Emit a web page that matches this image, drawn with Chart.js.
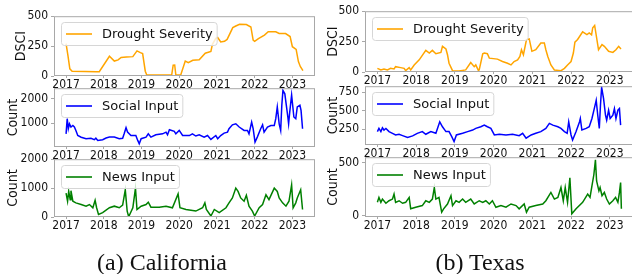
<!DOCTYPE html>
<html lang="en">
<head>
<meta charset="UTF-8" />
<title>Drought severity vs. social and news input</title>
<style>
  body {
    margin: 0;
    background: #fff;
    width: 632px; height: 274px;
    overflow: hidden;
    position: relative;
  }
  canvas { position: absolute; }
  .caption {
    position: absolute;
    width: 240px;
    text-align: center;
    font-family: 'Liberation Serif', 'Times New Roman', serif;
    font-size: 24px;
    line-height: 28px;
    color: #111;
  }
</style>
</head>
<body>

<canvas id="caDroughtChart"></canvas>
<canvas id="caSocialChart"></canvas>
<canvas id="caNewsChart"></canvas>
<canvas id="txDroughtChart"></canvas>
<canvas id="txSocialChart"></canvas>
<canvas id="txNewsChart"></canvas>

<div class="caption" style="left:42px; top:248px;">(a) California</div>
<div class="caption" style="left:360px; top:248px;">(b) Texas</div>

<script src="https://cdn.jsdelivr.net/npm/chart.js"></script>
<script>
  // ---- data: [year, value] ----
  const yearTicks = [2017, 2018, 2019, 2020, 2021, 2022, 2023];
  const xMin = 2016.68, xMax = 2023.6;

  const caDrought = [[2017.00,270],[2017.05,170],[2017.10,60],[2017.16,40],[2017.50,38],[2017.80,35],[2017.88,36],
    [2018.15,165],[2018.28,125],[2018.38,135],[2018.46,155],[2018.60,158],[2018.77,162],[2018.88,210],[2018.97,195],
    [2019.03,188],[2019.10,40],[2019.14,8],[2019.80,8],[2019.84,90],[2019.88,92],[2019.91,10],[2020.04,8],
    [2020.16,125],[2020.24,112],[2020.36,132],[2020.53,135],[2020.69,190],[2020.84,205],[2020.88,265],[2020.97,315],
    [2021.02,322],[2021.10,285],[2021.20,290],[2021.27,306],[2021.42,405],[2021.50,418],[2021.60,433],[2021.78,430],
    [2021.90,410],[2021.96,300],[2022.00,290],[2022.10,312],[2022.26,342],[2022.36,370],[2022.56,370],[2022.65,356],
    [2022.82,355],[2022.94,330],[2023.00,245],[2023.10,222],[2023.16,120],[2023.21,80],[2023.28,45]];

  const caSocial = [[2017.00,560],[2017.03,1180],[2017.06,770],[2017.09,970],[2017.13,840],[2017.18,900],[2017.22,840],
    [2017.26,700],[2017.31,490],[2017.40,420],[2017.53,360],[2017.66,380],[2017.75,320],[2017.79,380],[2017.84,290],
    [2017.97,320],[2018.06,390],[2018.15,425],[2018.28,425],[2018.41,360],[2018.50,380],[2018.54,560],[2018.59,810],
    [2018.63,630],[2018.72,490],[2018.85,490],[2018.90,290],[2018.94,150],[2018.99,360],[2019.12,425],[2019.18,560],
    [2019.25,425],[2019.38,520],[2019.56,560],[2019.65,630],[2019.69,520],[2019.74,730],[2019.87,660],[2019.91,560],
    [2020.00,700],[2020.09,490],[2020.27,490],[2020.35,560],[2020.44,470],[2020.53,520],[2020.66,425],[2020.75,490],
    [2020.84,330],[2020.97,490],[2021.02,360],[2021.10,490],[2021.19,590],[2021.28,630],[2021.32,770],[2021.41,930],
    [2021.50,970],[2021.59,840],[2021.72,700],[2021.81,700],[2021.85,560],[2021.92,1040],[2021.96,770],[2022.01,220],
    [2022.07,425],[2022.16,770],[2022.21,930],[2022.25,630],[2022.34,840],[2022.43,900],[2022.52,900],[2022.56,1180],
    [2022.60,1660],[2022.65,970],[2022.69,700],[2022.72,1730],[2022.75,2340],[2022.80,2200],[2022.84,1730],
    [2022.88,1250],[2022.90,970],[2022.93,1450],[2022.98,2150],[2023.04,1250],[2023.09,1180],[2023.13,1660],
    [2023.20,1730],[2023.23,1520],[2023.27,770]];

  const caNews = [[2017.00,830],[2017.04,545],[2017.07,885],[2017.11,600],[2017.13,910],[2017.18,545],[2017.26,490],
    [2017.40,430],[2017.53,375],[2017.62,430],[2017.71,320],[2017.77,580],[2017.81,320],[2017.86,90],[2017.97,150],
    [2018.15,320],[2018.28,375],[2018.41,320],[2018.50,410],[2018.57,940],[2018.62,205],[2018.66,10],[2018.77,320],
    [2018.84,1000],[2018.88,260],[2018.99,375],[2019.12,430],[2019.18,510],[2019.25,340],[2019.47,340],[2019.65,375],
    [2019.82,320],[2019.97,800],[2020.02,320],[2020.18,260],[2020.44,205],[2020.62,320],[2020.68,490],[2020.72,260],
    [2020.84,35],[2020.93,260],[2021.06,150],[2021.24,320],[2021.32,490],[2021.41,660],[2021.50,1000],[2021.56,885],
    [2021.63,660],[2021.72,545],[2021.78,750],[2021.85,375],[2021.94,205],[2022.00,35],[2022.12,320],[2022.21,430],
    [2022.30,770],[2022.38,600],[2022.52,1000],[2022.60,885],[2022.65,660],[2022.74,490],[2022.83,375],[2022.91,545],
    [2022.98,1110],[2023.02,320],[2023.09,490],[2023.13,660],[2023.22,940],[2023.27,260]];

  const txDrought = [[2017.00,30],[2017.09,17],[2017.17,25],[2017.26,17],[2017.34,30],[2017.43,25],[2017.47,44],
    [2017.60,36],[2017.69,30],[2017.73,12],[2017.82,36],[2017.86,17],[2017.95,58],[2018.08,100],[2018.25,178],
    [2018.34,156],[2018.42,178],[2018.51,150],[2018.64,161],[2018.68,211],[2018.77,189],[2018.81,142],[2018.85,72],
    [2018.94,11],[2019.11,8],[2019.28,17],[2019.41,78],[2019.50,44],[2019.54,58],[2019.61,11],[2019.63,20],
    [2019.72,150],[2019.76,156],[2019.84,150],[2019.89,114],[2020.10,106],[2020.23,86],[2020.36,72],[2020.45,58],
    [2020.53,86],[2020.62,100],[2020.68,128],[2020.72,183],[2020.77,142],[2020.85,267],[2020.92,272],[2020.99,170],
    [2021.09,183],[2021.22,239],[2021.31,239],[2021.35,183],[2021.40,128],[2021.48,58],[2021.57,17],[2021.74,11],
    [2021.83,30],[2021.91,58],[2022.00,86],[2022.06,156],[2022.10,245],[2022.17,267],[2022.30,330],[2022.41,308],
    [2022.47,322],[2022.53,306],[2022.56,364],[2022.61,383],[2022.71,183],[2022.80,225],[2022.86,211],[2022.97,170],
    [2023.08,161],[2023.16,183],[2023.23,211],[2023.29,189]];

  const txSocial = [[2017.00,220],[2017.04,263],[2017.09,220],[2017.13,272],[2017.17,241],[2017.22,263],[2017.30,220],
    [2017.39,197],[2017.47,175],[2017.56,184],[2017.65,166],[2017.78,140],[2017.91,162],[2018.03,197],[2018.16,220],
    [2018.25,184],[2018.38,220],[2018.51,197],[2018.61,352],[2018.68,285],[2018.77,220],[2018.85,220],[2018.92,153],
    [2018.98,86],[2019.04,175],[2019.20,197],[2019.33,220],[2019.46,241],[2019.54,263],[2019.67,285],[2019.76,307],
    [2019.84,285],[2019.93,263],[2020.02,175],[2020.15,184],[2020.32,175],[2020.49,184],[2020.66,166],[2020.75,197],
    [2020.84,131],[2020.97,175],[2021.09,197],[2021.22,220],[2021.35,263],[2021.44,330],[2021.53,307],[2021.66,285],
    [2021.74,263],[2021.83,220],[2021.90,197],[2021.94,352],[2022.00,175],[2022.04,108],[2022.13,220],[2022.22,352],
    [2022.24,396],[2022.28,241],[2022.39,263],[2022.47,285],[2022.54,396],[2022.60,529],[2022.65,640],[2022.69,440],
    [2022.73,263],[2022.76,573],[2022.79,815],[2022.84,662],[2022.89,440],[2022.92,374],[2022.97,507],[2023.01,396],
    [2023.08,440],[2023.12,529],[2023.16,396],[2023.21,507],[2023.25,529],[2023.28,307]];

  const txNews = [[2017.00,125],[2017.04,172],[2017.09,125],[2017.13,156],[2017.22,116],[2017.30,140],[2017.39,156],
    [2017.43,203],[2017.47,125],[2017.56,140],[2017.65,116],[2017.73,125],[2017.82,172],[2017.86,63],[2017.99,78],
    [2018.16,94],[2018.25,140],[2018.34,125],[2018.42,156],[2018.47,266],[2018.51,156],[2018.59,172],[2018.66,31],
    [2018.71,63],[2018.81,109],[2018.90,188],[2018.94,94],[2019.03,140],[2019.11,125],[2019.20,156],[2019.28,125],
    [2019.41,156],[2019.50,109],[2019.63,140],[2019.72,125],[2019.80,140],[2019.89,109],[2019.97,140],[2020.06,78],
    [2020.19,94],[2020.32,78],[2020.45,109],[2020.58,94],[2020.66,63],[2020.79,109],[2020.85,31],[2020.92,78],
    [2021.09,94],[2021.27,109],[2021.35,140],[2021.48,219],[2021.57,156],[2021.66,172],[2021.74,266],[2021.80,140],
    [2021.85,266],[2021.91,125],[2021.97,359],[2022.02,16],[2022.13,63],[2022.30,125],[2022.43,203],[2022.49,172],
    [2022.54,281],[2022.59,390],[2022.63,531],[2022.66,328],[2022.72,234],[2022.75,266],[2022.80,188],[2022.86,219],
    [2022.92,156],[2022.99,109],[2023.08,140],[2023.15,172],[2023.21,125],[2023.25,219],[2023.28,313],[2023.30,63]];

  const droughtTicks = [0, 250, 500];
  const caSocialTicks = [1000, 2000];
  const caNewsTicks = [0, 1000, 2000];
  const txSocialTicks = [250, 500, 750];
  const txNewsTicks = [0, 500];

  // ---- drawing ----
  const ink = '#111111';
  const frameColor = '#a8a8a8';
  const condensed = "'DejaVu Sans Condensed', 'DejaVu Sans', sans-serif";
  const tickFont = { family: condensed, size: 12 };
  const titleFont = { family: condensed, size: 14 };

  // matplotlib-style frame on all four sides + boxed legend top-left
  const frameAndLegend = {
    id: 'frameAndLegend',
    afterDatasetsDraw(chart) {
      const { ctx, chartArea: a } = chart;
      const ds = chart.data.datasets[0];
      ctx.save();
      ctx.strokeStyle = frameColor;
      ctx.lineWidth = 1;
      ctx.strokeRect(a.left + 0.5, a.top + 0.5, a.right - a.left - 1, a.bottom - a.top - 1);

      ctx.font = "13px 'DejaVu Sans', sans-serif";
      const tw = ctx.measureText(ds.label).width;
      const x = Math.round(a.left) + 7, y = Math.round(a.top) + 6, w = 45 + tw, h = 23;
      ctx.beginPath();
      ctx.roundRect(x + 0.5, y + 0.5, w, h, 3);
      ctx.fillStyle = 'rgba(255,255,255,0.8)';
      ctx.fill();
      ctx.strokeStyle = '#d6d6d6';
      ctx.stroke();
      ctx.beginPath();
      ctx.moveTo(x + 5, y + h / 2 + 0.5);
      ctx.lineTo(x + 31, y + h / 2 + 0.5);
      ctx.strokeStyle = ds.borderColor;
      ctx.lineWidth = 1.6;
      ctx.stroke();
      ctx.fillStyle = ink;
      ctx.textBaseline = 'middle';
      ctx.fillText(ds.label, x + 41, y + h / 2 + 1);
      ctx.restore();
    }
  };

  function makePanel(p) {
    const canvas = document.getElementById(p.id);
    canvas.width = p.w;
    canvas.height = p.h;
    canvas.style.left = p.x + 'px';
    canvas.style.top = p.y + 'px';

    new Chart(canvas, {
      type: 'line',
      data: {
        datasets: [{
          label: p.label,
          data: p.series.map(([x, y]) => ({ x, y })),
          borderColor: p.color,
          borderWidth: 1.5,
          pointRadius: 0,
          tension: 0,
          fill: false
        }]
      },
      options: {
        responsive: false,
        animation: false,
        devicePixelRatio: 1,
        layout: { padding: { top: 10, right: p.padRight, left: 0, bottom: 0 } },
        plugins: { legend: { display: false }, tooltip: { enabled: false } },
        scales: {
          x: {
            type: 'linear', min: xMin, max: xMax,
            afterBuildTicks: s => { s.ticks = yearTicks.map(v => ({ value: v })); },
            afterFit: s => { s.height = 18; },
            grid: { drawOnChartArea: false, drawTicks: true, tickLength: 2, color: frameColor },
            border: { display: false },
            ticks: { autoSkip: false, maxRotation: 0, padding: 0, color: ink, font: tickFont,
                     callback: v => String(v) }
          },
          y: {
            min: p.yMin, max: p.yMax,
            afterBuildTicks: s => { s.ticks = p.yTicks.map(v => ({ value: v })); },
            afterFit: s => { s.width = p.axisW; },
            grid: { drawOnChartArea: false, drawTicks: true, tickLength: 3, color: frameColor },
            border: { display: false },
            ticks: { padding: 3, color: ink, font: tickFont, callback: v => String(v) },
            title: { display: true, text: p.yTitle, color: ink, font: titleFont,
                     padding: { top: p.titlePad, bottom: 0 } }
          }
        }
      },
      plugins: [frameAndLegend]
    });
  }

  const orange = '#ffa500', blue = '#0000ff', green = '#008000';

  // left column (California)
  makePanel({ id: 'caDroughtChart', x: 0, y: 6, w: 320, h: 88, axisW: 54, padRight: 5, titlePad: 13,
              series: caDrought, label: 'Drought Severity', color: orange, yTitle: 'DSCI',
              yMin: 0, yMax: 500, yTicks: droughtTicks });
  makePanel({ id: 'caSocialChart', x: 0, y: 78, w: 320, h: 87, axisW: 54, padRight: 5, titlePad: 5,
              series: caSocial, label: 'Social Input', color: blue, yTitle: 'Count',
              yMin: 20, yMax: 2430, yTicks: caSocialTicks });
  makePanel({ id: 'caNewsChart', x: 0, y: 149, w: 320, h: 86, axisW: 54, padRight: 5, titlePad: 5,
              series: caNews, label: 'News Input', color: green, yTitle: 'Count',
              yMin: 0, yMax: 2000, yTicks: caNewsTicks });

  // right column (Texas), frame runs off the right edge
  makePanel({ id: 'txDroughtChart', x: 316, y: 1, w: 324, h: 89, axisW: 49, padRight: 7, titlePad: 9,
              series: txDrought, label: 'Drought Severity', color: orange, yTitle: 'DSCI',
              yMin: 0, yMax: 500, yTicks: droughtTicks });
  makePanel({ id: 'txSocialChart', x: 316, y: 76, w: 324, h: 87, axisW: 49, padRight: 7, titlePad: 9,
              series: txSocial, label: 'Social Input', color: blue, yTitle: 'Count',
              yMin: 40, yMax: 830, yTicks: txSocialTicks });
  makePanel({ id: 'txNewsChart', x: 316, y: 147, w: 324, h: 88, axisW: 49, padRight: 7, titlePad: 9,
              series: txNews, label: 'News Input', color: green, yTitle: 'Count',
              yMin: -15, yMax: 555, yTicks: txNewsTicks });
</script>
</body>
</html>
